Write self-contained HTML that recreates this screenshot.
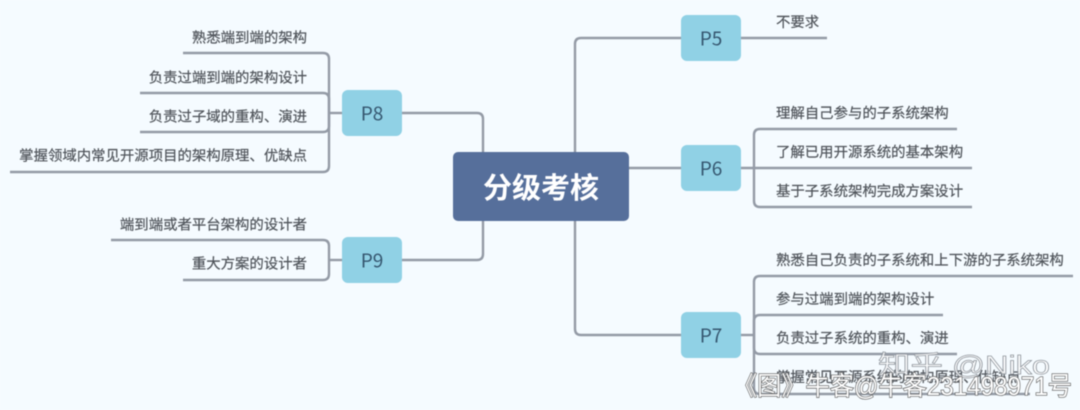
<!DOCTYPE html>
<html lang="zh">
<head>
<meta charset="utf-8">
<style>
html,body{margin:0;padding:0;width:1080px;height:410px;overflow:hidden;background:#f5fbff}
svg{display:block;filter:blur(.55px)}
text{font-family:"Liberation Sans","Noto Sans CJK SC",sans-serif}
.t{font-size:14.4px;fill:#50555b;stroke:#50555b;stroke-width:.2;dominant-baseline:central}
.r{text-anchor:end}
.p{font-family:"Noto Sans CJK SC",sans-serif;font-size:19px;fill:#35566f;text-anchor:middle;dominant-baseline:central}
path{fill:none;stroke:#949ba6;stroke-width:2.4}
</style>
</head>
<body>
<svg width="1080" height="410" viewBox="0 0 1080 410" xmlns="http://www.w3.org/2000/svg">
<rect width="1080" height="410" fill="#f5fbff"/>

<!-- centre connectors -->
<path d="M575 152V44Q575 38 581 38H681"/>
<path d="M629 168H681"/>
<path d="M575 221V329Q575 335 581 335H681"/>
<path d="M402 113H477Q483 113 483 119V152"/>
<path d="M402 260H477Q483 260 483 254V221"/>

<!-- P5 -->
<path d="M741 38H827"/>
<!-- P6 -->
<path d="M741 168H972"/>
<path d="M957 129H760Q754 129 754 135V201Q754 207 760 207H972"/>
<!-- P7 -->
<path d="M741 335H754"/>
<path d="M1073 276H760Q754 276 754 282V388Q754 394 760 394H1030"/>
<path d="M943 315H760Q754 315 754 321V348Q754 354 760 354H957"/>
<!-- P8 -->
<path d="M329 113H342"/>
<path d="M183 53H323Q329 53 329 59V166Q329 172 323 172H10"/>
<path d="M140 93H323Q329 93 329 99V126Q329 132 323 132H140"/>
<!-- P9 -->
<path d="M329 260H342"/>
<path d="M111 240H323Q329 240 329 246V274Q329 280 323 280H183"/>

<!-- nodes -->
<rect x="453" y="152" width="176" height="69" rx="5" fill="#566f9b"/>
<text x="541" y="186" font-size="29" font-weight="700" fill="#fff" text-anchor="middle" dominant-baseline="central" style="font-family:'Noto Sans CJK SC',sans-serif">分级考核</text>

<rect x="681" y="15" width="60" height="46" rx="6" fill="#90d1e5"/>
<text class="p" x="711" y="38">P5</text>
<rect x="681" y="145" width="60" height="46" rx="6" fill="#90d1e5"/>
<text class="p" x="711" y="168">P6</text>
<rect x="681" y="312" width="60" height="46" rx="6" fill="#90d1e5"/>
<text class="p" x="711" y="335">P7</text>
<rect x="342" y="90" width="60" height="46" rx="6" fill="#90d1e5"/>
<text class="p" x="372" y="113">P8</text>
<rect x="342" y="237" width="60" height="46" rx="6" fill="#90d1e5"/>
<text class="p" x="372" y="260">P9</text>

<!-- right labels -->
<text class="t" x="776" y="23">不要求</text>
<text class="t" x="776" y="114">理解自己参与的子系统架构</text>
<text class="t" x="776" y="153">了解已用开源系统的基本架构</text>
<text class="t" x="776" y="192">基于子系统架构完成方案设计</text>
<text class="t" x="776" y="261">熟悉自己负责的子系统和上下游的子系统架构</text>
<text class="t" x="776" y="300">参与过端到端的架构设计</text>
<text class="t" x="776" y="339">负责过子系统的重构、演进</text>
<text class="t" x="776" y="378">掌握常见开源系统的架构原理、优缺点</text>

<!-- left labels -->
<text class="t r" x="307" y="38.5">熟悉端到端的架构</text>
<text class="t r" x="307" y="78.5">负责过端到端的架构设计</text>
<text class="t r" x="307" y="117.5">负责过子域的重构、演进</text>
<text class="t r" x="307" y="156.5">掌握领域内常见开源项目的架构原理、优缺点</text>
<text class="t r" x="307" y="225.5">端到端或者平台架构的设计者</text>
<text class="t r" x="307" y="264.5">重大方案的设计者</text>

<!-- watermarks -->
<text x="878" y="365" font-size="26" fill="#fff" fill-opacity=".8" stroke="#8f959c" stroke-width=".7" dominant-baseline="central" textLength="172" lengthAdjust="spacingAndGlyphs">知乎 @Niko</text>
<text x="733" y="386" font-size="26" fill="#fff" stroke="#5a5a5a" stroke-width="1.3" paint-order="stroke" dominant-baseline="central" textLength="339" lengthAdjust="spacingAndGlyphs">《图》牛客@牛客231498971号</text>
</svg>
</body>
</html>
